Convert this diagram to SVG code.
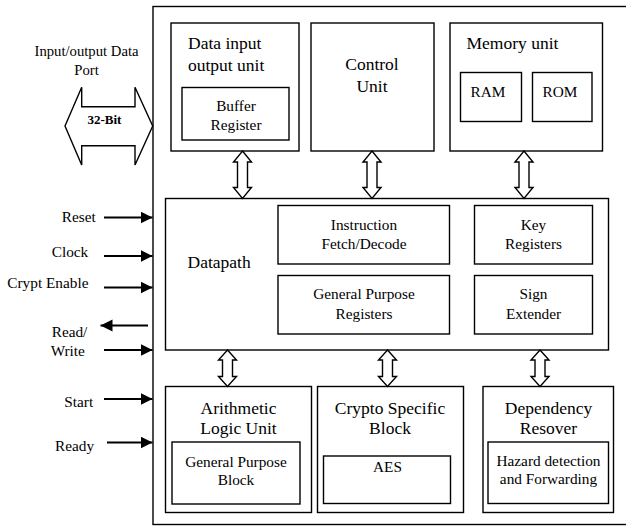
<svg xmlns="http://www.w3.org/2000/svg" width="626" height="527" viewBox="0 0 626 527" font-family="'Liberation Serif', 'Times New Roman', Tinos, 'DejaVu Serif', serif">
<style>
.box{fill:#fff;stroke:#000;stroke-width:1.4}
.dbl{fill:#fff;stroke:#000;stroke-width:1.4;stroke-linejoin:miter}
.sig{stroke:#000;stroke-width:2;fill:none}
text{font-family:'Liberation Serif', 'Times New Roman', Tinos, 'DejaVu Serif', serif;fill:#000}
.lg{font-size:17.5px}
.md{font-size:15.3px}
.c{text-anchor:middle}
</style>
<defs>
<marker id="ah" markerUnits="userSpaceOnUse" markerWidth="13" markerHeight="13" refX="12" refY="6" orient="auto">
<path d="M0,0 L12,6 L0,12 z" fill="#000"/>
</marker>
</defs>
<rect width="626" height="527" fill="#fff"/>
<g id="outer"><rect class="box" x="153" y="6.5" width="480" height="518"/></g>

<g id="dataio">
<rect class="box" x="171" y="23" width="128" height="128"/>
<text class="lg" x="188" y="48.5">Data input</text>
<text class="lg" x="188" y="71">output unit</text>
<rect class="box" x="182" y="87.5" width="107" height="52.5"/>
<text class="md c" x="236" y="111">Buffer</text>
<text class="md c" x="236" y="129.5">Register</text>
</g>

<g id="control">
<rect class="box" x="311" y="23" width="123" height="128"/>
<text class="lg c" x="372" y="69.5">Control</text>
<text class="lg c" x="372" y="92">Unit</text>
</g>

<g id="memory">
<rect class="box" x="450" y="23" width="152.5" height="128"/>
<text class="lg" x="466.5" y="49">Memory unit</text>
<rect class="box" x="460.5" y="72.5" width="61" height="49"/>
<text class="md" x="470.5" y="97">RAM</text>
<rect class="box" x="532.5" y="72.5" width="59.5" height="49"/>
<text class="md" x="542.5" y="97">ROM</text>
</g>

<g id="datapath">
<rect class="box" x="165.5" y="198.5" width="443" height="151.5"/>
<text class="lg" x="187.5" y="267.5">Datapath</text>
<rect class="box" x="278" y="205.5" width="171.5" height="58.5"/>
<text class="md c" x="364" y="229.5">Instruction</text>
<text class="md c" x="364" y="248.5">Fetch/Decode</text>
<rect class="box" x="278" y="275.5" width="171.5" height="58.5"/>
<text class="md c" x="364" y="299">General Purpose</text>
<text class="md c" x="364" y="318.5">Registers</text>
<rect class="box" x="474.5" y="205.5" width="118" height="58.5"/>
<text class="md c" x="533.5" y="229.5">Key</text>
<text class="md c" x="533.5" y="248.5">Registers</text>
<rect class="box" x="474.5" y="275.5" width="118" height="58.5"/>
<text class="md c" x="533.5" y="299">Sign</text>
<text class="md c" x="533.5" y="318.5">Extender</text>
</g>

<g id="alu">
<rect class="box" x="165.5" y="386.5" width="146" height="126"/>
<text class="lg c" x="238.5" y="413.5">Arithmetic</text>
<text class="lg c" x="238.5" y="434">Logic Unit</text>
<rect class="box" x="172" y="442" width="128" height="62"/>
<text class="md c" x="236" y="466.5">General Purpose</text>
<text class="md c" x="236" y="485">Block</text>
</g>

<g id="crypto">
<rect class="box" x="317.5" y="386.5" width="146" height="126"/>
<text class="lg c" x="390" y="413.5">Crypto Specific</text>
<text class="lg c" x="390" y="434">Block</text>
<rect class="box" x="323.5" y="456" width="127" height="47.5"/>
<text class="md c" x="387.5" y="471.5">AES</text>
</g>

<g id="dependency">
<rect class="box" x="483" y="386.5" width="130.5" height="126"/>
<text class="lg c" x="548.5" y="413.5">Dependency</text>
<text class="lg c" x="548.5" y="434">Resover</text>
<rect class="box" x="488" y="442" width="120.5" height="61.5"/>
<text class="md c" x="548.5" y="466">Hazard detection</text>
<text class="md c" x="548.5" y="484">and Forwarding</text>
</g>

<g id="port">
<polygon class="dbl" points="65,126 81.7,87.3 81.7,106.7 135,106.7 135,87.3 152.7,126 135,165 135,145.7 81.7,145.7 81.7,165"/>
<text style="font-size:13px;font-weight:bold" x="87.5" y="123.5">32-Bit</text>
<text style="font-size:14.7px" class="c" x="86.5" y="56">Input/output Data</text>
<text style="font-size:14.7px" class="c" x="86.5" y="74.5">Port</text>
</g>

<g id="connectors">
<polygon class="dbl" points="242.5,151 251.5,162 247.5,162 247.5,187.5 251.5,187.5 242.5,198.5 233.5,187.5 237.5,187.5 237.5,162 233.5,162"/>
<polygon class="dbl" points="372,151 381,162 377,162 377,187.5 381,187.5 372,198.5 363,187.5 367,187.5 367,162 363,162"/>
<polygon class="dbl" points="524,151 533,162 529,162 529,187.5 533,187.5 524,198.5 515,187.5 519,187.5 519,162 515,162"/>
<polygon class="dbl" points="227.5,350 236.5,360 232.5,360 232.5,376.5 236.5,376.5 227.5,386.5 218.5,376.5 222.5,376.5 222.5,360 218.5,360"/>
<polygon class="dbl" points="387.5,350 396.5,360 392.5,360 392.5,376.5 396.5,376.5 387.5,386.5 378.5,376.5 382.5,376.5 382.5,360 378.5,360"/>
<polygon class="dbl" points="540,350 549,360 545,360 545,376.5 549,376.5 540,386.5 531,376.5 535,376.5 535,360 531,360"/>
<line class="sig" x1="104" y1="217.5" x2="152.5" y2="217.5" marker-end="url(#ah)"/>
<line class="sig" x1="104" y1="256" x2="152.5" y2="256" marker-end="url(#ah)"/>
<line class="sig" x1="104" y1="287.5" x2="152.5" y2="287.5" marker-end="url(#ah)"/>
<line class="sig" x1="148" y1="325.5" x2="100.5" y2="325.5" marker-end="url(#ah)"/>
<line class="sig" x1="104" y1="350" x2="152.5" y2="350" marker-end="url(#ah)"/>
<line class="sig" x1="104" y1="399" x2="152.5" y2="399" marker-end="url(#ah)"/>
<line class="sig" x1="107" y1="442.5" x2="152.5" y2="442.5" marker-end="url(#ah)"/>
</g>

<g id="signals">
<text class="md" x="61.7" y="222">Reset</text>
<text class="md" x="51.7" y="256.7">Clock</text>
<text class="md" x="7.3" y="288.3">Crypt Enable</text>
<text class="md" x="51.7" y="336.7">Read/</text>
<text class="md" x="50.7" y="355.7">Write</text>
<text class="md" x="64.3" y="407.3">Start</text>
<text class="md" x="55" y="450.7">Ready</text>
</g>
</svg>
